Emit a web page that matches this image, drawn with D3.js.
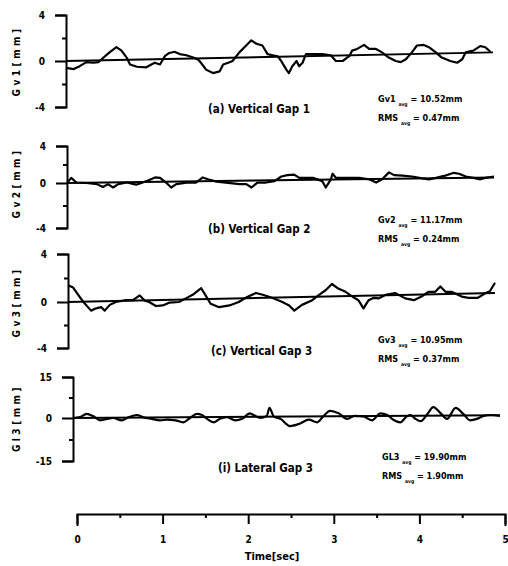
<!DOCTYPE html>
<html>
<head>
<meta charset="utf-8">
<title>Gap measurement</title>
<style type="text/css">
	body { margin: 0; background: #fff; }
	svg text { font-family: "Liberation Sans Narrow", "DejaVu Sans Condensed", "Liberation Sans", sans-serif; font-weight: bold; fill: #000; }
	.axis path, .axis line { stroke: #000; stroke-width: 2; }
	.sig { fill: none; stroke: #000; stroke-width: 2.2; stroke-linejoin: round; }
	.trend { fill: none; stroke: #000; stroke-width: 2; }
</style>
<script src="https://cdn.jsdelivr.net/npm/d3@7/dist/d3.min.js"></script>
</head>
<body>
<div id="chart"></div>
<script type="text/javascript">
// values (time in sec, gap in mm)
var timeA = [0,0.09,0.16,0.24,0.32,0.38,0.44,0.51,0.59,0.65,0.71,0.75,0.83,0.94,1.0,1.04,1.1,1.16,1.21,1.27,1.33,1.41,1.49,1.55,1.58,1.64,1.72,1.8,1.84,1.9,1.95,2.03,2.11,2.17,2.23,2.3,2.36,2.42,2.48,2.52,2.58,2.61,2.65,2.7,2.73,2.77,2.81,2.89,3.0,3.1,3.16,3.24,3.32,3.35,3.41,3.49,3.55,3.63,3.7,3.78,3.86,3.92,3.98,4.05,4.11,4.19,4.25,4.33,4.4,4.5,4.58,4.64,4.68,4.77,4.85,4.91,4.97];
var gv1 = [-0.6,-0.7,-0.45,-0.1,-0.15,-0.1,0.3,0.75,1.2,0.9,0.3,-0.3,-0.5,-0.55,-0.3,-0.15,-0.3,0.45,0.7,0.8,0.6,0.5,0.3,0.1,-0.15,-0.75,-1.05,-0.9,-0.3,-0.15,0,0.75,1.35,1.8,1.5,1.35,0.6,0.5,0.4,0,-0.75,-1.05,-0.45,0,-0.45,-0.15,0.6,0.6,0.6,0.5,0,0,0.45,0.9,1.05,1.4,1.05,1.05,0.75,0.3,0,-0.1,0.15,0.75,1.35,1.4,1.2,0.75,0.3,0,-0.15,0.15,0.75,0.9,1.3,1.2,0.8];

var timeB = [0,0.05,0.11,0.23,0.35,0.42,0.48,0.54,0.6,0.7,0.81,0.93,1.03,1.09,1.16,1.22,1.28,1.4,1.51,1.59,1.65,1.75,1.86,2.02,2.1,2.16,2.23,2.33,2.43,2.51,2.58,2.66,2.72,2.88,2.99,3.03,3.09,3.11,3.15,3.27,3.42,3.54,3.62,3.69,3.77,3.83,3.93,4.04,4.16,4.24,4.32,4.43,4.53,4.59,4.67,4.76,4.84,4.9,5.0];
var gv2 = [0,0.55,0.05,0,-0.1,-0.35,-0.1,-0.4,-0.1,0.05,-0.15,0.2,0.6,0.55,0.05,-0.4,-0.1,0.05,0.05,0.6,0.4,0.15,0.05,-0.1,-0.1,-0.4,0.05,0.05,0.2,0.7,0.85,0.9,0.55,0.55,0.2,-0.4,0.4,1.0,0.55,0.55,0.55,0.4,0.05,0.4,1.15,0.85,0.8,0.7,0.5,0.4,0.55,0.8,1.1,1.0,0.7,0.55,0.4,0.55,0.7];

var timeC = [0,0.06,0.12,0.18,0.27,0.33,0.39,0.43,0.49,0.56,0.68,0.76,0.84,0.9,0.95,1.03,1.11,1.19,1.3,1.38,1.46,1.56,1.62,1.67,1.77,1.89,2.0,2.08,2.2,2.28,2.39,2.51,2.59,2.65,2.74,2.86,2.94,3.02,3.09,3.17,3.25,3.33,3.4,3.46,3.52,3.58,3.64,3.72,3.83,3.95,4.05,4.14,4.22,4.3,4.36,4.42,4.49,4.61,4.69,4.8,4.88,4.94,5.0];
var gv3 = [1.4,1.2,0.6,0,-0.75,-0.55,-0.45,-0.75,-0.25,0,0.15,0.15,0.55,0.1,0,-0.35,-0.3,-0.05,0,0.3,0.6,1.15,0.45,-0.15,-0.45,-0.3,0,0.35,0.75,0.6,0.35,0,-0.3,-0.75,-0.25,0.15,0.6,1.0,1.5,1.1,0.85,0.45,0.15,-0.55,0.15,0.35,0.3,0.6,0.75,0.3,0.15,0.45,0.85,0.85,1.3,0.85,0.85,0.45,0.35,0.35,0.7,0.9,1.6];

var timeD = [0,0.08,0.16,0.24,0.32,0.4,0.47,0.57,0.65,0.75,0.82,0.92,1.02,1.1,1.2,1.29,1.37,1.45,1.51,1.57,1.65,1.72,1.8,1.9,1.98,2.07,2.13,2.19,2.27,2.3,2.35,2.43,2.54,2.66,2.76,2.86,2.93,3.01,3.11,3.21,3.3,3.4,3.5,3.6,3.68,3.75,3.83,3.91,3.95,4.01,4.07,4.15,4.22,4.3,4.38,4.48,4.57,4.65,4.73,4.81,4.89,5.0];
var gl3 = [0,0.3,1.5,0.6,-0.8,-0.3,0,-0.8,0.3,1.1,0.3,-0.3,-0.8,-0.6,-0.8,-1.5,0,1.5,1.1,-0.3,-1.5,-0.3,0.3,-0.8,-0.3,1.7,0.8,0,0.8,3.7,0.6,-0.3,-2.8,-1.9,-0.6,-1.5,0.6,2.6,1.7,-0.3,0.8,0.6,-0.8,1.7,1.1,-0.6,-1.5,0.6,1.1,-0.3,-1.1,1.5,4.0,1.9,-0.3,3.7,1.5,-0.8,-0.3,0.8,1.1,0.8];

// straight reference line under each trace: [start, end]
var trendTime = [0, 5];
var trendA = [0, 0.75];
var trendB = [0, 0.6];
var trendC = [0, 0.75];
var trendD = [0, 1.0];

var timeTicks = [0, 1, 2, 3, 4, 5];
var timeMinor = [0.5, 1.5, 2.5, 3.5, 4.5];

var panels = [
	{ t: timeA, v: gv1, trend: trendA, max: 4, lab: "Gv1[mm]", cap: "(a) Vertical Gap 1", sym: "Gv1", mean: "10.52mm", rms: "0.47mm",
	  ax: 66, top: 15, zero: 61, bot: 107, capX: 208, capY: 113, anX: 378, anY: 102 },
	{ t: timeB, v: gv2, trend: trendB, max: 4, lab: "Gv2[mm]", cap: "(b) Vertical Gap 2", sym: "Gv2", mean: "11.17mm", rms: "0.24mm",
	  ax: 67, top: 146, zero: 183, bot: 228, capX: 208, capY: 233, anX: 378, anY: 223 },
	{ t: timeC, v: gv3, trend: trendC, max: 4, lab: "Gv3[mm]", cap: "(c) Vertical Gap 3", sym: "Gv3", mean: "10.95mm", rms: "0.37mm",
	  ax: 68, top: 254, zero: 302, bot: 348, capX: 211, capY: 355, anX: 378, anY: 343 },
	{ t: timeD, v: gl3, trend: trendD, max: 15, lab: "Gl3[mm]", cap: "(i) Lateral Gap 3", sym: "GL3", mean: "19.90mm", rms: "1.90mm",
	  ax: 73, top: 377, zero: 418, bot: 461, capX: 218, capY: 472, anX: 382, anY: 460 }
];

var width = 508, height = 566;
var svg = d3.select('#chart').append('svg')
		.attr('width', width)
		.attr('height', height);

panels.forEach(function(p, i){
	var x = d3.scaleLinear().domain([0, 5]).range([p.ax, p.ax + 427]);
	// scan is not symmetric round the zero line, so piecewise
	var y = d3.scaleLinear().domain([-p.max, 0, p.max]).range([p.bot, p.zero, p.top]);

	var g = svg.append('g');

	g.append('g').attr('class', 'axis')
		.attr('transform', 'translate(' + p.ax + ',0)')
		.call(d3.axisLeft(y).tickValues([-p.max, 0, p.max]).tickSize(11).tickSizeOuter(11).tickPadding(10)
			.tickFormat(function(d){ return d < 0 ? '-' + (-d) : d; }))
		.call(function(s){ s.selectAll('text').style('font-size', '10px').style('font-family', null); });

	g.append('g').attr('class', 'axis')
		.attr('transform', 'translate(' + p.ax + ',0)')
		.call(d3.axisLeft(y).tickValues([-p.max / 2, p.max / 2]).tickSize(4).tickFormat(''))
		.call(function(s){ s.select('.domain').remove(); });

	g.append('text')
		.attr('transform', 'translate(20,' + p.zero + ') rotate(-90)')
		.attr('text-anchor', 'middle')
		.style('font-size', '10px')
		.style('letter-spacing', '3.5px')
		.text(p.lab);

	var trendData = trendTime.map(function(t, k){ return [t, p.trend[k]]; });
	g.append('path').attr('class', 'trend')
		.attr('d', d3.line().x(function(d){ return x(d[0]); }).y(function(d){ return y(d[1]); })(trendData));

	var sig = p.t.map(function(t, k){ return [t, p.v[k]]; });
	var line = d3.line()
		.x(function(d){ return x(d[0]); })
		.y(function(d){ return y(d[1]); })
		.curve(i == 3 ? d3.curveMonotoneX : d3.curveLinear);
	g.append('path').attr('class', 'sig').attr('d', line(sig));

	g.append('text')
		.attr('x', p.capX).attr('y', p.capY)
		.style('font-size', '11.5px')
		.text(p.cap);

	var t1 = g.append('text').attr('x', p.anX).attr('y', p.anY).style('font-size', '9px');
	t1.append('tspan').text(p.sym + ' ');
	t1.append('tspan').attr('dy', 4).style('font-size', '5px').text('avg');
	t1.append('tspan').attr('dy', -4).text(' = ' + p.mean);

	var t2 = g.append('text').attr('x', p.anX).attr('y', p.anY + 19).style('font-size', '9px');
	t2.append('tspan').text('RMS ');
	t2.append('tspan').attr('dy', 4).style('font-size', '5px').text('avg');
	t2.append('tspan').attr('dy', -4).text(' = ' + p.rms);
});

// shared time axis at the bottom
var xTime = d3.scaleLinear().domain([0, 5]).range([77, 505]);

svg.append('g').attr('class', 'axis')
	.attr('transform', 'translate(0,514)')
	.call(d3.axisBottom(xTime).tickValues(timeTicks).tickSize(10).tickSizeOuter(12).tickPadding(12).tickFormat(d3.format('d')))
	.call(function(s){ s.selectAll('text').style('font-size', '10px').style('font-family', null); });

svg.append('g').attr('class', 'axis')
	.attr('transform', 'translate(0,514)')
	.call(d3.axisBottom(xTime).tickValues(timeMinor).tickSize(4).tickFormat(''))
	.call(function(s){ s.select('.domain').remove(); });

svg.append('text')
	.attr('x', 272).attr('y', 560)
	.attr('text-anchor', 'middle')
	.style('font-size', '11px')
	.text('Time[sec]');
</script>
</body>
</html>
